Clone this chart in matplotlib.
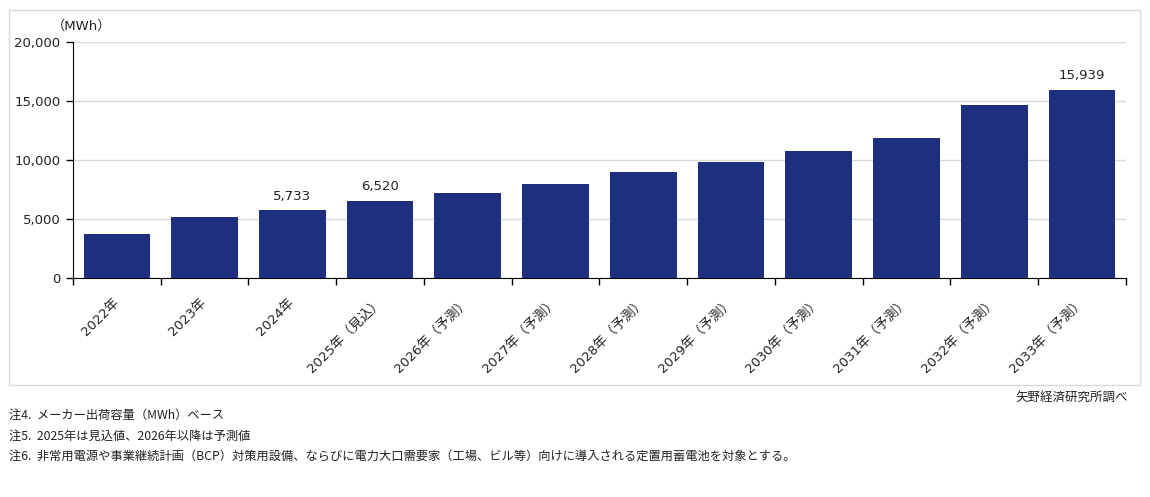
import matplotlib.pyplot as plt
from matplotlib.patches import Rectangle
from matplotlib.ticker import FuncFormatter

# DejaVu for latin/digits (Verdana-like), Noto CJK for Japanese
plt.rcParams['font.family'] = ['DejaVu Sans', 'Noto Sans CJK JP']

# shipment capacity by year (MWh)
years = ["2022年", "2023年", "2024年", "2025年（見込）", "2026年（予測）", "2027年（予測）",
         "2028年（予測）", "2029年（予測）", "2030年（予測）", "2031年（予測）",
         "2032年（予測）", "2033年（予測）"]
values = [3730, 5170, 5733, 6520, 7200, 7970, 8980, 9830, 10760, 11860, 14660, 15939]
labeled = [2, 3, 11]   # bars that carry a value label

notes = [
    "注4.  メーカー出荷容量（MWh）ベース",
    "注5.  2025年は見込値、2026年以降は予測値",
    "注6.  非常用電源や事業継続計画（BCP）対策用設備、ならびに電力大口需要家（工場、ビル等）向けに導入される定置用蓄電池を対象とする。",
]
source = "矢野経済研究所調べ"

bar_color = "#1f2f7f"
text_color = "#222222"

fig = plt.figure(figsize=(11.5, 4.97), dpi=100)
ax = fig.add_axes([0.0635, 0.4406, 0.9155, 0.4749])

x = list(range(len(years)))
ax.bar(x, values, width=0.76, color=bar_color, zorder=3)

for i in labeled:
    ax.text(i, values[i] + 650, f"{values[i]:,}", ha="center", va="bottom",
            fontsize=9.5, color=text_color)

ax.set_xlim(-0.5, len(years) - 0.5)
ax.set_ylim(0, 20000)
ax.set_yticks(range(0, 20001, 5000))
ax.yaxis.set_major_formatter(FuncFormatter(lambda v, p: f"{int(v):,}"))
ax.grid(axis="y", color="#d9d9d9", linewidth=1, zorder=0)

# ticks between categories, labels at the centre
ax.set_xticks([i - 0.5 for i in range(len(years) + 1)], minor=True)
ax.set_xticks(x)
ax.set_xticklabels(years, rotation=45, ha="right", va="center", rotation_mode="anchor",
                   fontsize=9.5, color=text_color)
ax.tick_params(axis="x", which="major", length=0, pad=16)
ax.tick_params(axis="x", which="minor", length=5, width=1, color="black", direction="out")
ax.tick_params(axis="y", length=5, width=1, color="black", labelsize=9.5,
               labelcolor=text_color, pad=4)

for s in ["top", "right"]:
    ax.spines[s].set_visible(False)
ax.spines["left"].set_color("black")
ax.spines["bottom"].set_color("black")

fig.text(0.045, 0.948, "（MWh）", fontsize=9.5, color=text_color, ha="left", va="center")

# outer frame around the chart area
frame = Rectangle((0.008, 0.225), 0.983, 0.755, transform=fig.transFigure,
                  fill=False, edgecolor="#d9d9d9", linewidth=1)
fig.patches.append(frame)

fig.text(0.981, 0.201, source, fontsize=9, color=text_color, ha="right", va="center",
         family="Noto Sans CJK JP")
for k, line in enumerate(notes):
    fig.text(0.008, 0.164 - k * 0.041, line, fontsize=8.8, color=text_color,
             ha="left", va="center", family="Noto Sans CJK JP")

fig.savefig("out.png", dpi=100)
